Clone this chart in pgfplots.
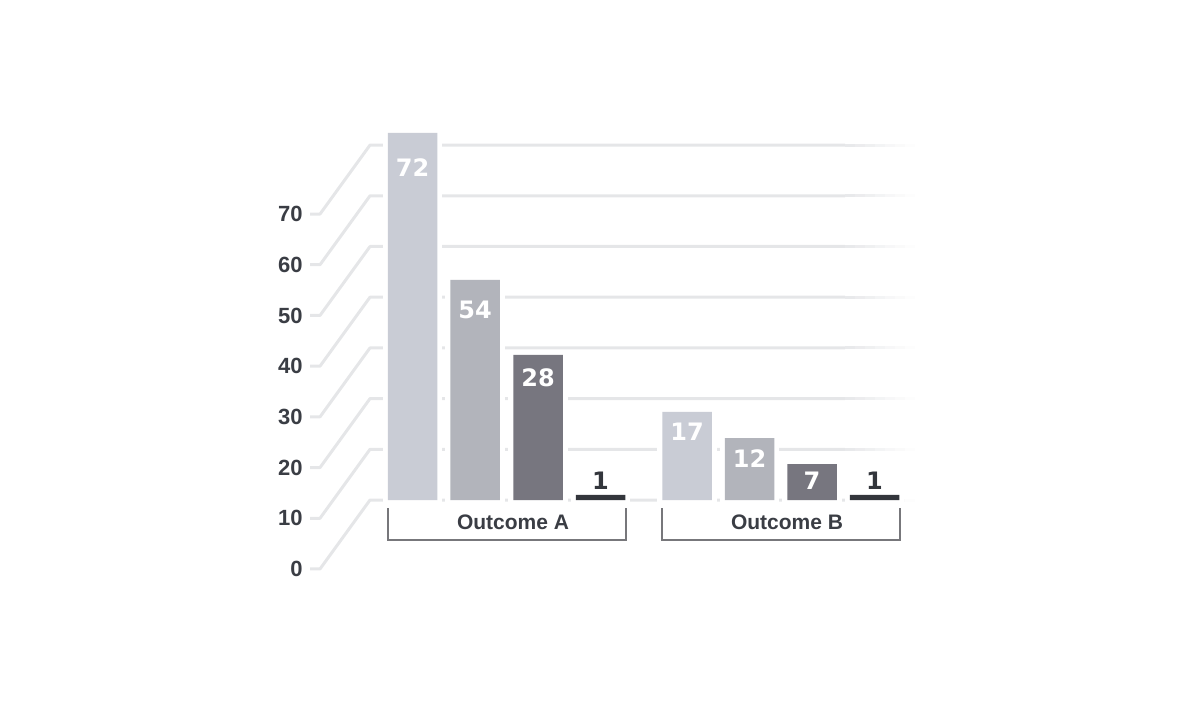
\documentclass[border=0pt]{standalone}
\usepackage{pgfplots}
\usepackage{pgfplotstable}
\pgfplotsset{compat=1.18}
\usepackage{fontspec}
\setmainfont{Liberation Sans}
\newfontfamily\wide{DejaVu Sans}

\definecolor{cA}{HTML}{C9CCD5}
\definecolor{cB}{HTML}{B2B4BB}
\definecolor{cC}{HTML}{77767F}
\definecolor{cD}{HTML}{33363C}
\definecolor{gridc}{HTML}{E5E6E8}
\definecolor{brc}{HTML}{77777B}
\definecolor{tickc}{HTML}{3A3D44}

% x = bar centre (px), h = drawn height, ly = label height, lab = printed value
% (the "54" bar is drawn shorter in the source, so h follows the picture)
\pgfplotstableread{
x     h     ly    lab
412.5 72.4  65.5  72
687   17.4  13.4  17
}\sA
\pgfplotstableread{
x     h     ly    lab
475   43.4  37.5  54
749.5 12.2  8.1   12
}\sB
\pgfplotstableread{
x     h     ly    lab
538   28.6  24.1  28
812   7.1   3.75  7
}\sC
\pgfplotstableread{
x     h     ly    lab
600.5 1     3.75  1
874.5 1     3.75  1
}\sD

\pgfplotsset{
  halo/.style={ybar, bar shift=0pt, bar width=49.5, draw=white, fill=white, line width=5pt},
  bar/.style={ybar, bar shift=0pt, bar width=49.5, draw=none, fill=#1},
  lbl/.style={draw=none, mark=none, nodes near coords, point meta=explicit symbolic,
    nodes near coords style={anchor=center, text=#1, inner sep=0pt,
      font=\wide\bfseries\fontsize{12}{12}\selectfont}},
}

\begin{document}
\begin{tikzpicture}
\begin{axis}[name=ax, scale only axis, width=600pt, height=360pt,
  xmin=0, xmax=1200, ymin=-43.39, ymax=98.62, hide axis, clip=false]

% back grid with diagonal links to the front ticks, fading out to the right
\pgfplotsinvokeforeach{0,10,20,30,40,50,60,70}{
  \draw[gridc, line width=1.5pt, line join=round]
    (axis cs:310,{#1-13.6}) -- (axis cs:320,{#1-13.6}) -- (axis cs:370,#1) -- (axis cs:845,#1);
  \draw[gridc!88, line width=1.5pt] (axis cs:845,#1) -- (axis cs:856,#1);
  \draw[gridc!74, line width=1.5pt] (axis cs:855,#1) -- (axis cs:866,#1);
  \draw[gridc!60, line width=1.5pt] (axis cs:865,#1) -- (axis cs:876,#1);
  \draw[gridc!46, line width=1.5pt] (axis cs:875,#1) -- (axis cs:886,#1);
  \draw[gridc!32, line width=1.5pt] (axis cs:885,#1) -- (axis cs:896,#1);
  \draw[gridc!20, line width=1.5pt] (axis cs:895,#1) -- (axis cs:906,#1);
  \draw[gridc!9, line width=1.5pt] (axis cs:905,#1) -- (axis cs:915,#1);
  \node[anchor=east, inner sep=0pt, text=tickc, font=\bfseries\fontsize{11}{11}\selectfont]
    at (axis cs:303,{#1-13.6}) {#1};
}

\addplot[halo] table[x=x, y=h] {\sA};
\addplot[halo] table[x=x, y=h] {\sB};
\addplot[halo] table[x=x, y=h] {\sC};
\addplot[halo] table[x=x, y=h] {\sD};

\addplot[bar=cA] table[x=x, y=h] {\sA};
\addplot[bar=cB] table[x=x, y=h] {\sB};
\addplot[bar=cC] table[x=x, y=h] {\sC};
\addplot[bar=cD] table[x=x, y=h] {\sD};

\addplot[lbl=white] table[x=x, y=ly, meta=lab] {\sA};
\addplot[lbl=white] table[x=x, y=ly, meta=lab] {\sB};
\addplot[lbl=white] table[x=x, y=ly, meta=lab] {\sC};
\addplot[lbl=cD] table[x=x, y=ly, meta=lab] {\sD};

% group brackets
\draw[brc, line width=1pt] (axis cs:388,-1.58) |- (axis cs:626,-7.89) -- (axis cs:626,-1.58);
\draw[brc, line width=1pt] (axis cs:662,-1.58) |- (axis cs:900,-7.89) -- (axis cs:900,-1.58);
\node[text=tickc, font=\bfseries\fontsize{10.5}{10.5}\selectfont, inner sep=0pt]
  at (axis cs:513,-4.4) {Outcome A};
\node[text=tickc, font=\bfseries\fontsize{10.5}{10.5}\selectfont, inner sep=0pt]
  at (axis cs:787,-4.4) {Outcome B};
\end{axis}
\pgfresetboundingbox
\path (ax.south west) rectangle (ax.north east);
\end{tikzpicture}
\end{document}
